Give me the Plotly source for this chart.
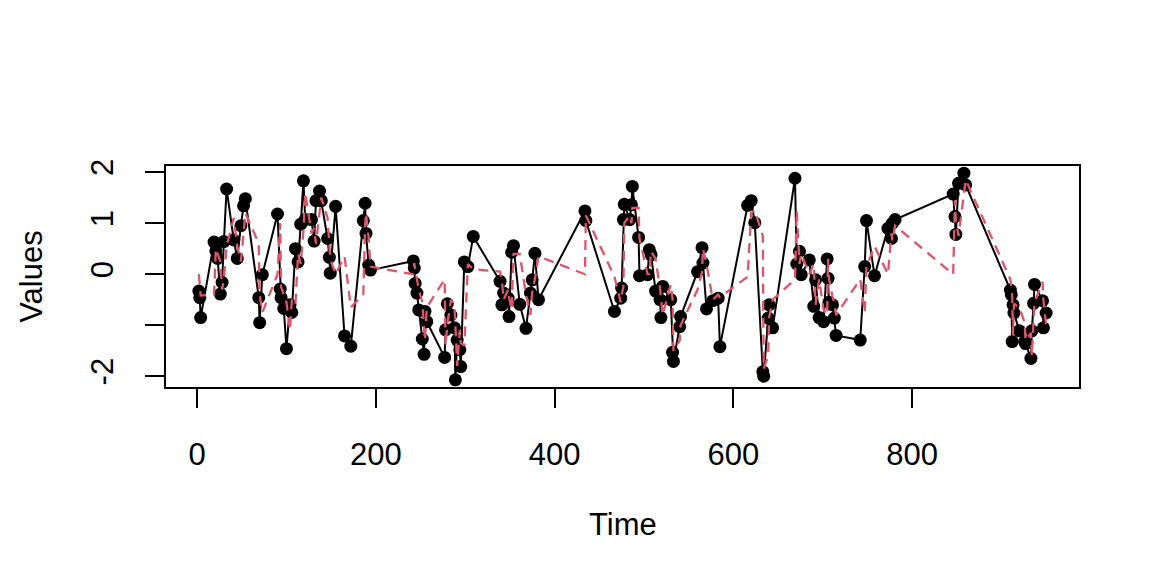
import plotly.graph_objects as go

# ---- data ----
times = [2, 3, 4, 19, 21, 23, 26, 28, 30, 33,
         41, 45, 49, 52, 54, 69, 70, 73, 90, 93,
         94, 97, 100, 104, 106, 110, 113, 116, 119, 121,
         128, 131, 133, 137, 139, 146, 148, 149, 155, 165,
         172, 186, 188, 189, 192, 194, 242, 243, 244, 246,
         248, 252, 254, 255, 257, 277, 278, 280, 284, 288,
         289, 291, 294, 295, 299, 303, 309, 339, 341, 343,
         348, 349, 352, 354, 361, 368, 373, 375, 378, 382,
         434, 435, 467, 474, 475, 477, 478, 484, 486, 487,
         494, 495, 504, 506, 508, 513, 518, 519, 521, 530,
         532, 533, 540, 541, 560, 565, 566, 570, 577, 583,
         585, 616, 620, 624, 633, 634, 639, 640, 644, 669,
         671, 674, 676, 685, 690, 692, 696, 701, 705, 706,
         707, 711, 713, 715, 742, 747, 749, 758, 773, 777,
         778, 781, 846, 848, 849, 852, 858, 860, 910, 911,
         912, 913, 914, 920, 926, 927, 933, 934, 936, 937,
         946, 947, 950]

values = [-0.33, -0.46, -0.85, 0.63, 0.46, 0.31, -0.39, -0.16, 0.64, 1.67,
          0.67, 0.31, 0.95, 1.34, 1.48, -0.46, -0.95, -0.01, 1.18, -0.29,
          -0.46, -0.67, -1.46, -0.6, -0.75, 0.5, 0.24, 0.98, 1.83, 1.07,
          1.07, 0.65, 1.44, 1.63, 1.44, 0.7, 0.33, 0.02, 1.33, -1.21,
          -1.41, 1.05, 1.39, 0.8, 0.18, 0.08, 0.26, 0.12, -0.18, -0.37,
          -0.7, -1.27, -1.57, -0.73, -0.93, -1.63, -1.09, -0.58, -0.8, -1.05,
          -2.07, -1.29, -1.48, -1.81, 0.24, 0.15, 0.74, -0.14, -0.6, -0.37,
          -0.47, -0.83, 0.43, 0.56, -0.59, -1.06, -0.37, -0.11, 0.41, -0.5,
          1.24, 1.05, -0.73, -0.47, -0.27, 1.07, 1.37, 1.07, 1.36, 1.72,
          0.72, -0.03, -0.01, 0.48, 0.38, -0.33, -0.5, -0.85, -0.24, -0.5,
          -1.53, -1.71, -1.03, -0.83, 0.05, 0.52, 0.22, -0.68, -0.52, -0.47,
          -1.42, 1.35, 1.44, 1.01, -1.91, -2.0, -0.86, -0.6, -1.05, 1.88,
          0.2, 0.45, -0.01, 0.28, -0.63, -0.11, -0.85, -0.93, 0.3, -0.08,
          -0.55, -0.6, -0.86, -1.2, -1.29, 0.15, 1.05, -0.03, 0.9, 0.7,
          1.0, 1.07, 1.57, 1.13, 0.78, 1.78, 1.98, 1.75, -0.31, -0.4,
          -1.32, -0.6, -0.76, -1.11, -1.32, -1.36, -1.65, -1.11, -0.57, -0.2,
          -0.52, -1.05, -0.76]

fitted = [0.0, -0.3, -0.42, -0.4, 0.5, 0.4, 0.25, -0.3, -0.1, 0.55,
          1.1, 0.55, 0.25, 0.8, 1.2, 0.6, -0.4, -0.75, 0.0, 1.0,
          -0.25, -0.4, -0.55, -1.1, -0.5, -0.6, 0.4, 0.2, 0.85, 1.6,
          0.8, 0.9, 0.6, 1.2, 1.5, 1.1, 0.65, 0.3, 0.0, 0.35,
          -0.65, -0.4, 0.95, 1.2, 0.7, 0.15, 0.0, 0.22, 0.1, -0.15,
          -0.3, -0.55, -1.1, -1.3, -0.65, -0.1, -1.4, -1.0, -0.5, -0.65,
          -1.0, -1.8, -1.1, -1.35, -1.4, 0.2, 0.1, 0.05, -0.12, -0.5,
          -0.3, -0.45, -0.7, 0.4, 0.4, -0.4, -0.8, -0.35, -0.1, 0.35,
          0.0, 1.15, -0.05, -0.55, -0.4, -0.25, 1.0, 1.15, 1.0, 1.3,
          1.3, 0.7, 0.0, 0.0, 0.45, 0.3, -0.28, -0.48, -0.8, -0.2,
          -0.48, -1.5, -1.3, -1.0, -0.3, 0.04, 0.5, 0.2, -0.5, -0.4,
          -0.45, -0.05, 1.2, 1.25, 0.75, -1.85, -1.6, -0.85, -0.5, -0.1,
          1.25, 0.2, 0.4, 0.0, 0.2, -0.6, -0.1, -0.7, -0.8, 0.3,
          -0.08, -0.45, -0.55, -0.8, -0.1, -0.75, 0.15, 0.55, 0.0, 0.8,
          0.65, 0.95, 0.0, 1.45, 1.05, 0.75, 1.65, 1.85, -0.1, -0.3,
          -0.4, -1.2, -0.58, -0.65, -0.95, -1.3, -1.15, -1.6, -1.05, -0.55,
          -0.15, -0.52, -1.0]

x_ticks = [0, 200, 400, 600, 800]
x_ticklabels = ["0", "200", "400", "600", "800"]
y_ticks = [-2, -1, 0, 1, 2]
y_ticklabels = ["-2", "", "0", "1", "2"]

FONT = "Liberation Sans, Arial, sans-serif"
FS = 31

fig = go.Figure()
fig.add_trace(go.Scatter(
    x=times, y=values, mode="lines+markers",
    line=dict(color="black", width=2),
    marker=dict(color="black", size=13, line=dict(width=0)),
    showlegend=False))
fig.add_trace(go.Scatter(
    x=times, y=fitted, mode="lines",
    line=dict(color="#DF536B", width=2.3, dash="10px,7px"),
    showlegend=False))

# R-style box around the plot region
fig.add_shape(type="rect", xref="paper", yref="paper", x0=0, x1=1, y0=0, y1=1,
              line=dict(color="black", width=2), fillcolor="rgba(0,0,0,0)", layer="above")

fig.add_annotation(text="Time", xref="paper", yref="paper", x=0.5, y=-0.61,
                   xanchor="center", yanchor="middle", showarrow=False,
                   font=dict(family=FONT, size=FS, color="black"))
fig.add_annotation(text="Values", xref="paper", yref="paper", x=-0.1461, y=0.5,
                   xanchor="center", yanchor="middle", showarrow=False, textangle=-90,
                   font=dict(family=FONT, size=FS, color="black"))

fig.update_layout(
    width=1152, height=576,
    margin=dict(l=157, r=80, t=157, b=196),
    paper_bgcolor="white", plot_bgcolor="white",
    font=dict(family=FONT, size=FS, color="black"),
    xaxis=dict(range=[-35.9, 987.9], tickvals=x_ticks, ticktext=x_ticklabels,
               ticks="outside", ticklen=19, tickwidth=2, tickcolor="black",
               showgrid=False, zeroline=False, showline=False,
               ticklabelstandoff=20,
               tickfont=dict(family=FONT, size=FS, color="black")),
    yaxis=dict(range=[-2.23, 2.14], tickvals=y_ticks, ticktext=y_ticklabels,
               ticks="outside", ticklen=19, tickwidth=2, tickcolor="black",
               showgrid=False, zeroline=False, showline=False,
               tickangle=-90, ticklabelstandoff=20,
               tickfont=dict(family=FONT, size=FS, color="black")),
)

fig.write_html("out.html")
